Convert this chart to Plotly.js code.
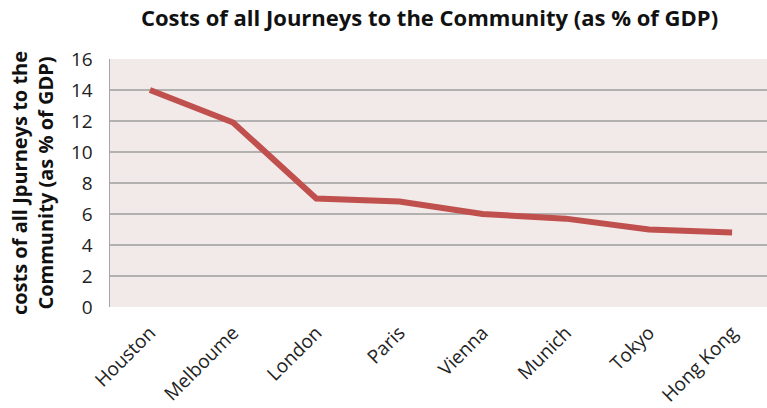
<!DOCTYPE html>
<html><head><meta charset="utf-8">
<script src="https://cdn.plot.ly/plotly-3.0.1.min.js"></script>
<style>html,body{margin:0;padding:0;background:#fff}#chart{width:767px;height:408px}</style>
</head><body><div id="chart"></div>
<script>
const cities = ["Houston","Melboume","London","Paris","Vienna","Munich","Tokyo","Hong Kong"];
const costs = [14.0, 11.9, 7.0, 6.8, 6.0, 5.7, 5.0, 4.8];
const yTicks = [0,2,4,6,8,10,12,14,16];
const chartTitle = "Costs of all Journeys to the Community (as % of GDP)";
const yTitle = "costs of all Jpurneys to the<br>Community (as % of GDP)";

const FONT = "'Open Sans', Lato, sans-serif";
Plotly.newPlot("chart", [{
  x: cities, y: costs, type: "scatter", mode: "lines",
  line: {color: "#C0504D", width: 6}
}], {
  width: 767, height: 408,
  margin: {l: 110, r: 0, t: 59, b: 101},
  paper_bgcolor: "#ffffff", plot_bgcolor: "#F2E9E9",
  font: {family: FONT, color: "#222"},
  title: {text: "<b>" + chartTitle + "</b>", x: 0.56, xanchor: "center", y: 0.955, yanchor: "middle",
          font: {size: 22, family: FONT, color: "#111"}},
  xaxis: {type: "category", range: [-0.48, 7.42], showgrid: false, zeroline: false,
          tickangle: -45, tickfont: {size: 19, color: "#222"}, ticks: "", showline: false,
          ticklabelstandoff: 10},
  yaxis: {range: [0, 16], tickvals: yTicks, showgrid: true, gridcolor: "#B3B0B0", gridwidth: 1.5,
          zeroline: false, showline: true, linecolor: "#A6A6A6", linewidth: 1.5, ticks: "",
          ticklabelstandoff: 12, tickfont: {size: 19, color: "#222"},
          title: {text: "<b>" + yTitle + "</b>", font: {size: 20, color: "#111"}, standoff: 12}}
}, {displayModeBar: false, staticPlot: true});
</script></body></html>
